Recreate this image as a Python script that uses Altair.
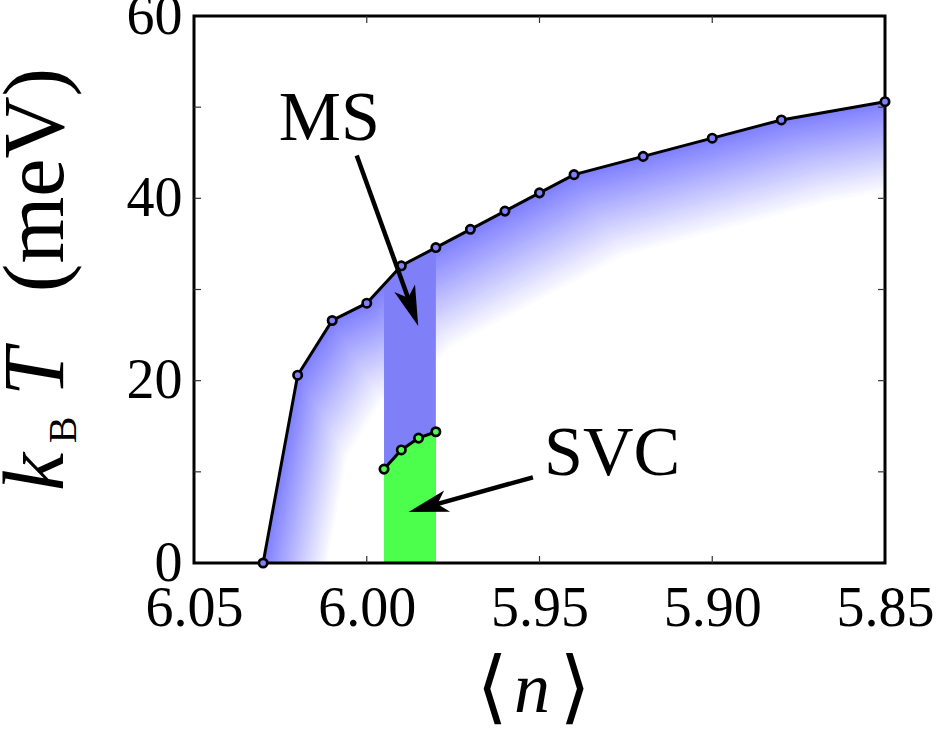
import math
import altair as alt
import pandas as pd

# Critical temperature of the magnetic phase vs. filling
n_vals = [6.03, 6.02, 6.01, 6.00, 5.99, 5.98, 5.97, 5.96, 5.95, 5.94, 5.92, 5.90, 5.88, 5.85]
kT_vals = [0.0, 20.6, 26.6, 28.5, 32.6, 34.6, 36.6, 38.6, 40.6, 42.6, 44.6, 46.6, 48.6, 50.6]

# SVC boundary
svc_n = [5.995, 5.99, 5.985, 5.98]
svc_kT = [10.3, 12.4, 13.7, 14.4]

# MS window (top edge runs along the boundary)
ms_n = [5.995, 5.99, 5.98]
ms_kT = [30.6, 32.6, 34.6]

# axis labels and inner ticks
x_label_vals = [6.05, 6.00, 5.95, 5.90, 5.85]
y_label_vals = [0, 20, 40, 60]
x_tick_vals = [6.00, 5.95, 5.90]
y_tick_vals = [10, 20, 30, 40, 50]

# annotations in data coordinates: (n, kT) of label, arrow tail -> tip
ms_label = (6.0108, 46.4)
ms_arrow = (6.0029, 44.7, 5.9851, 26.0)
svc_label = (5.929, 9.6)
svc_arrow = (5.9519, 9.4, 5.9879, 5.6)

SERIF = "Liberation Serif"
BLUE = "#8080ff"
GREEN = "#4dff4d"

W, H = 691, 547
N0, N1 = 5.85, 6.05
T0, T1 = 0, 60


def to_px(n, T):
    return (N1 - n) * W / (N1 - N0), (T1 - T) * H / (T1 - T0)


def from_px(x, y):
    return N1 - x * (N1 - N0) / W, T1 - y * (T1 - T0) / H


xscale = alt.Scale(domain=[N0, N1], reverse=True, nice=False, zero=False)
yscale = alt.Scale(domain=[T0, T1], nice=False, zero=False)
xaxis = alt.Axis(values=x_label_vals, format=".2f", title=None, ticks=False, domain=False,
                 grid=False, labelFont=SERIF, labelFontSize=56, labelColor="black",
                 labelPadding=18, labelFlush=False, labelOverlap=False, labelBound=False)
yaxis = alt.Axis(values=y_label_vals, format="d", title=None, ticks=False, domain=False,
                 grid=False, labelFont=SERIF, labelFontSize=56, labelColor="black",
                 labelPadding=12, labelFlush=False, labelOverlap=False, labelBound=False)


def X(f="n"):
    return alt.X(f"{f}:Q", scale=xscale, axis=xaxis)


def Y(f="T"):
    return alt.Y(f"{f}:Q", scale=yscale, axis=yaxis)


one = pd.DataFrame({"a": [0]})
layers = []

# Fading fill under the boundary: stacked copies of the curve, each shifted
# towards lower n and lower T and painted a little lighter than the last.
N_BANDS = 40
SHIFT_N, SHIFT_T = 0.0143, 8.9
base_rgb = (128, 128, 255)
for k in range(N_BANDS + 1):
    t = k / N_BANDS
    r, g, b = [round(c + (255 - c) * t) for c in base_rgb]
    band = pd.DataFrame({"n": [v - t * SHIFT_N for v in n_vals],
                         "T": [v - t * SHIFT_T for v in kT_vals]})
    layers.append(alt.Chart(band).mark_area(clip=True, color=f"#{r:02x}{g:02x}{b:02x}")
                  .encode(x=X(), y=Y()))

# MS window and SVC region
ms_df = pd.DataFrame({"n": ms_n, "T": ms_kT})
svc_df = pd.DataFrame({"n": svc_n, "T": svc_kT})
layers.append(alt.Chart(ms_df).mark_area(color="#7f7ff7").encode(x=X(), y=Y()))
layers.append(alt.Chart(svc_df).mark_area(color=GREEN).encode(x=X(), y=Y()))

# frame
layers.append(alt.Chart(one).mark_rect(filled=False, color="black", strokeWidth=3).encode(
    x=alt.value(0), x2=alt.value(W), y=alt.value(0), y2=alt.value(H)))

# inward ticks on all four sides
ytk = pd.DataFrame({"T": y_tick_vals})
xtk = pd.DataFrame({"n": x_tick_vals})
tick_style = dict(color="#333333", strokeWidth=1.2)
layers.append(alt.Chart(ytk).mark_rule(**tick_style).encode(y=Y(), x=alt.value(0), x2=alt.value(7)))
layers.append(alt.Chart(ytk).mark_rule(**tick_style).encode(y=Y(), x=alt.value(W - 7), x2=alt.value(W)))
layers.append(alt.Chart(xtk).mark_rule(**tick_style).encode(x=X(), y=alt.value(0), y2=alt.value(7)))
layers.append(alt.Chart(xtk).mark_rule(**tick_style).encode(x=X(), y=alt.value(H - 7), y2=alt.value(H)))

# boundary lines with markers
main_df = pd.DataFrame({"n": n_vals, "T": kT_vals})
layers.append(alt.Chart(main_df).mark_line(color="black", strokeWidth=3).encode(x=X(), y=Y()))
layers.append(alt.Chart(main_df).mark_point(shape="circle", filled=True, fill=BLUE, stroke="black",
                                            strokeWidth=2.7, size=70, opacity=1).encode(x=X(), y=Y()))
layers.append(alt.Chart(svc_df).mark_line(color="black", strokeWidth=3).encode(x=X(), y=Y()))
layers.append(alt.Chart(svc_df).mark_point(shape="circle", filled=True, fill=GREEN, stroke="black",
                                           strokeWidth=2.7, size=70, opacity=1).encode(x=X(), y=Y()))

# arrows: shaft up to the middle of a stealth-style head
HEAD_LEN = 40
head_shape = "M0,-1L0.55,1L0,0.5L-0.55,1Z"
shafts, heads = [], []
for n1, t1, n2, t2 in (ms_arrow, svc_arrow):
    x1, y1 = to_px(n1, t1)
    x2, y2 = to_px(n2, t2)
    L = math.hypot(x2 - x1, y2 - y1)
    ux, uy = (x2 - x1) / L, (y2 - y1) / L
    cx, cy = x2 - ux * HEAD_LEN / 2, y2 - uy * HEAD_LEN / 2
    cn, cT = from_px(cx, cy)
    ang = math.degrees(math.atan2(ux, -uy)) % 360
    shafts.append({"n": n1, "T": t1, "n2": cn, "T2": cT})
    heads.append({"n": cn, "T": cT, "ang": ang})
layers.append(alt.Chart(pd.DataFrame(shafts)).mark_rule(color="black", strokeWidth=4.5).encode(
    x=X(), y=Y(), x2=alt.X2("n2:Q"), y2=alt.Y2("T2:Q")))
layers.append(alt.Chart(pd.DataFrame(heads)).mark_point(shape=head_shape, filled=True, color="black",
                                                        size=HEAD_LEN ** 2, opacity=1).encode(
    x=X(), y=Y(), angle=alt.Angle("ang:Q", scale=None)))

# region labels
labels = pd.DataFrame({"n": [ms_label[0], svc_label[0]], "T": [ms_label[1], svc_label[1]],
                       "txt": ["MS", "SVC"]})
layers.append(alt.Chart(labels).mark_text(font=SERIF, fontSize=70, color="black", align="center",
                                          baseline="alphabetic").encode(x=X(), y=Y(), text="txt:N"))

# y title: k_B T (meV), read bottom to top
def ytitle_piece(txt, size, base_x, center_y, italic=False):
    kw = dict(text=txt, font=SERIF, fontSize=size, color="black", angle=270,
              align="center", baseline="alphabetic")
    if italic:
        kw["fontStyle"] = "italic"
    return alt.Chart(one).mark_text(**kw).encode(x=alt.value(base_x - 194), y=alt.value(center_y - 16))


layers.append(ytitle_piece("k", 86, 63, 472, italic=True))
layers.append(ytitle_piece("B", 40, 76, 430))
layers.append(ytitle_piece("T", 86, 63, 372, italic=True))
layers.append(ytitle_piece("(meV)", 86, 63, 180))

# x title: <n>
def xtitle_piece(txt, size, center_x, base_y, font=SERIF, italic=False):
    kw = dict(text=txt, font=font, fontSize=size, color="black", align="center",
              baseline="alphabetic")
    if italic:
        kw["fontStyle"] = "italic"
    return alt.Chart(one).mark_text(**kw).encode(x=alt.value(center_x - 194), y=alt.value(base_y - 16))


layers.append(xtitle_piece("\u27e8", 80, 492, 714, font="DejaVu Sans"))
layers.append(xtitle_piece("n", 72, 532, 712, italic=True))
layers.append(xtitle_piece("\u27e9", 80, 575, 714, font="DejaVu Sans"))

chart = (
    alt.layer(*layers)
    .properties(width=W, height=H, autosize=alt.AutoSizeParams(type="none"),
                padding={"left": 194, "top": 16, "right": 55, "bottom": 173})
    .configure_view(strokeWidth=0)
    .configure(background="white")
)

chart.save("out.html", embed_options={"renderer": "svg", "actions": False})
